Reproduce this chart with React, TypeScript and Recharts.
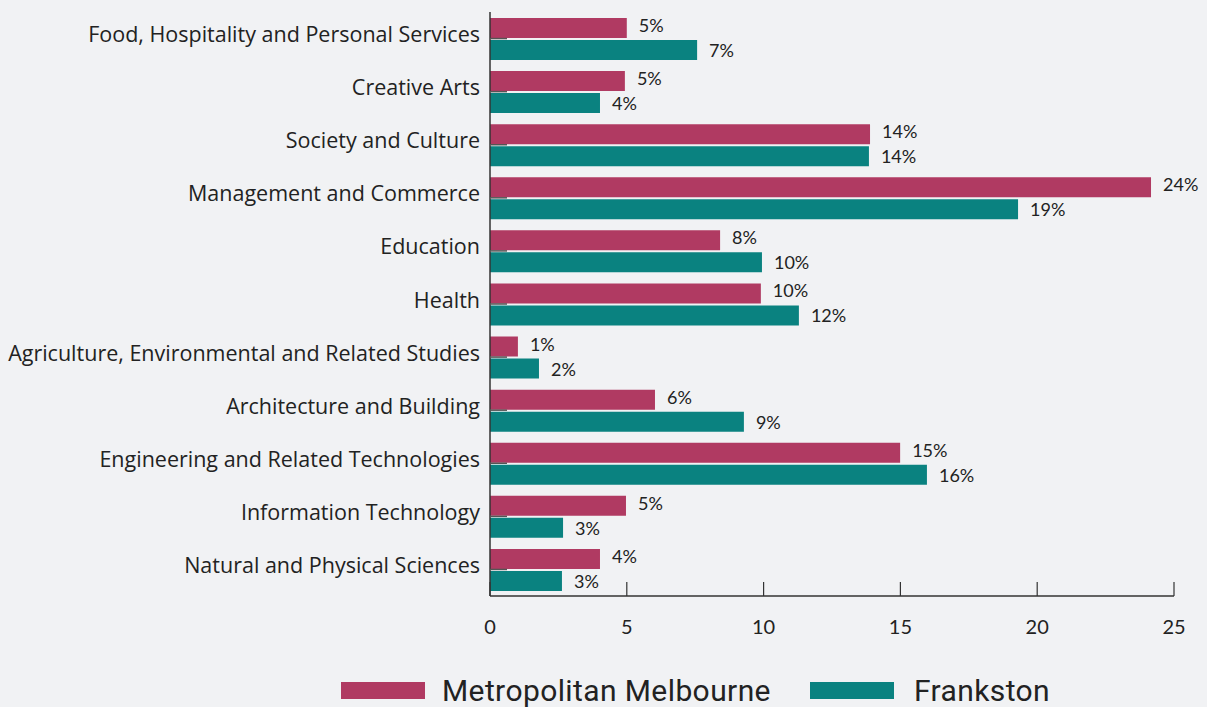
import React from "react";
import { BarChart, Bar, XAxis, YAxis, LabelList } from "recharts";

const categories = [
  "Food, Hospitality and Personal Services",
  "Creative Arts",
  "Society and Culture",
  "Management and Commerce",
  "Education",
  "Health",
  "Agriculture, Environmental and Related Studies",
  "Architecture and Building",
  "Engineering and Related Technologies",
  "Information Technology",
  "Natural and Physical Sciences",
];
const melbourneValues = [5.0, 4.93, 13.89, 24.16, 8.41, 9.9, 1.02, 6.03, 14.99, 4.97, 4.02];
const frankstonValues = [7.57, 4.02, 13.85, 19.3, 9.94, 11.29, 1.79, 9.28, 15.97, 2.67, 2.63];
const melbourneLabels = ["5%", "5%", "14%", "24%", "8%", "10%", "1%", "6%", "15%", "5%", "4%"];
const frankstonLabels = ["7%", "4%", "14%", "19%", "10%", "12%", "2%", "9%", "16%", "3%", "3%"];
const xTicks = [0, 5, 10, 15, 20, 25];
const seriesNames = ["Metropolitan Melbourne", "Frankston"];

const MELB = "#b03a62";
const FRANK = "#0a8280";
const BG = "#f1f2f4";

const data = categories.map((c, i) => ({
  category: c,
  melb: melbourneValues[i],
  frank: frankstonValues[i],
  melbLabel: melbourneLabels[i],
  frankLabel: frankstonLabels[i],
}));

const YTick = (props: any) => {
  const { x, y, payload } = props;
  return (
    <g>
      <line x1={x + 10} x2={x + 27} y1={y} y2={y} stroke="#555" strokeWidth={1.5} />
      <text
        x={x}
        y={y - 5}
        textAnchor="end"
        dominantBaseline="central"
        fontFamily="'Open Sans', sans-serif"
        fontSize={21.5}
        fill="#222"
      >
        {payload.value}
      </text>
    </g>
  );
};

const XTick = (props: any) => {
  const { x, y, payload } = props;
  return (
    <g>
      <line x1={x} x2={x} y1={y} y2={y - 14} stroke="#333" strokeWidth={1.2} />
      <text
        x={x}
        y={y + 30}
        textAnchor="middle"
        dominantBaseline="central"
        fontFamily="Lato, sans-serif"
        fontSize={20}
        fill="#222"
      >
        {payload.value}
      </text>
    </g>
  );
};

const makeLabel = (labels: string[], dy: number) => (props: any) => {
  const { x, y, width, height, index } = props;
  return (
    <text
      x={x + width + 12}
      y={y + height / 2 + dy}
      dominantBaseline="central"
      fontFamily="Lato, sans-serif"
      fontSize={18}
      fill="#222"
    >
      {labels[index]}
    </text>
  );
};

export default function App() {
  return (
    <div style={{ position: "absolute", left: 0, top: 0, width: 1207, height: 707, background: BG }}>
      <BarChart
        width={1207}
        height={707}
        data={data}
        layout="vertical"
        margin={{ top: 12, right: 33, left: 0, bottom: 0 }}
        barSize={20}
        barGap={2}
      >
        <XAxis
          type="number"
          domain={[0, 25]}
          ticks={xTicks}
          height={111}
          axisLine={{ stroke: "#333", strokeWidth: 1.5 }}
          tickLine={false}
          tickSize={0}
          tickMargin={0}
          tick={<XTick />}
          interval={0}
        />
        <YAxis
          type="category"
          dataKey="category"
          width={490}
          axisLine={{ stroke: "#333", strokeWidth: 1.5 }}
          tickLine={false}
          tickSize={0}
          tickMargin={10}
          tick={<YTick />}
          interval={0}
        />
        <Bar dataKey="melb" name={seriesNames[0]} fill={MELB} isAnimationActive={false}>
          <LabelList dataKey="melbLabel" content={makeLabel(melbourneLabels, -3)} />
        </Bar>
        <Bar dataKey="frank" name={seriesNames[1]} fill={FRANK} isAnimationActive={false}>
          <LabelList dataKey="frankLabel" content={makeLabel(frankstonLabels, 0)} />
        </Bar>
      </BarChart>
      <div
        style={{
          position: "absolute",
          top: 673,
          left: 341,
          display: "flex",
          alignItems: "center",
          fontFamily: "Roboto, sans-serif",
          fontSize: 30,
          letterSpacing: 0.4,
          color: "#222",
        }}
      >
        {seriesNames.map((n, i) => (
          <div key={n} style={{ display: "flex", alignItems: "center", marginRight: i === 0 ? 39 : 0 }}>
            <div style={{ width: 84, height: 17, background: i === 0 ? MELB : FRANK, marginRight: i === 0 ? 17 : 20 }} />
            <span>{n}</span>
          </div>
        ))}
      </div>
    </div>
  );
}
